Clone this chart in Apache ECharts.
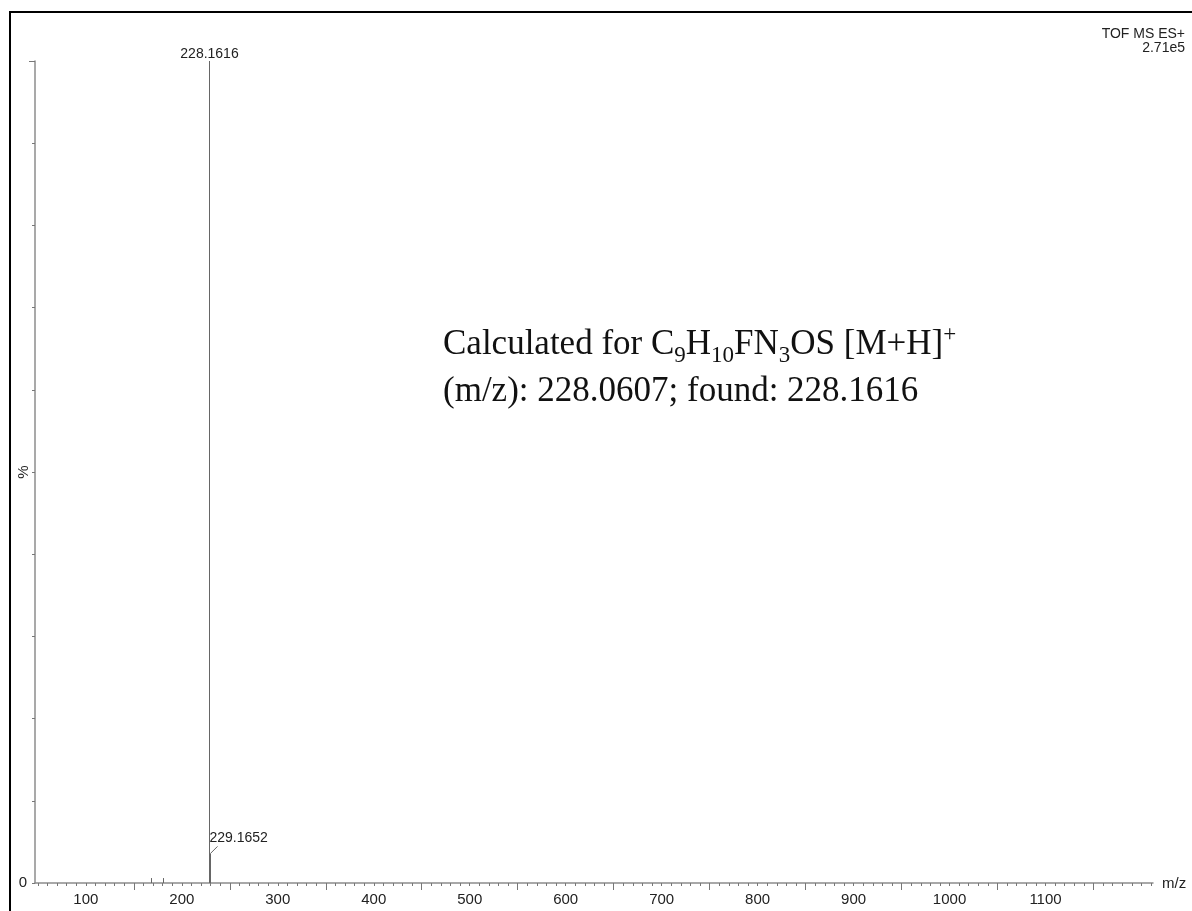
<!DOCTYPE html>
<html>
<head>
<meta charset="utf-8">
<title>TOF MS ES+ spectrum</title>
<script src="https://cdn.jsdelivr.net/npm/echarts@6/dist/echarts.min.js"></script>
<style>
  html, body { margin: 0; padding: 0; background: #fff; }
  #chart { width: 1192px; height: 911px; }
</style>
</head>
<body>
<div id="chart"></div>
<script>
// Peak list: m/z and relative intensity (%)
const mzValues = [168.1, 179.9, 228.1616, 229.1652];
const intensities = [0.6, 0.6, 100, 3.6];
const peakLabels = ['', '', '228.1616', '229.1652'];

// Axis ticks and labels
const xLabelValues = [100, 200, 300, 400, 500, 600, 700, 800, 900, 1000, 1100];
const xMinorTicks = [];
for (let v = 50; v <= 1210; v += 10) xMinorTicks.push(v);
const xHalfTicks = [150, 250, 350, 450, 550, 650, 750, 850, 950, 1050, 1150];
const yTickValues = [0, 10, 20, 30, 40, 50, 60, 70, 80, 90, 100];

const X_MIN = 47, X_MAX = 1212;
const SANS = '"Liberation Sans", Arial, sans-serif';
const SERIF = '"Liberation Serif", "Times New Roman", serif';
const AXIS_GREY = '#8c8c8c';

const chart = echarts.init(document.getElementById('chart'), null, { renderer: 'canvas' });

const peakData = mzValues.map((mz, i) => [mz, intensities[i], peakLabels[i]]);

const option = {
  backgroundColor: '#ffffff',
  animation: false,
  grid: { left: 35, right: 39, top: 61, bottom: 28, containLabel: false, outerBoundsMode: 'none' },
  xAxis: [
    {
      type: 'value', min: X_MIN, max: X_MAX,
      axisLine: { show: true, onZero: false, lineStyle: { color: AXIS_GREY, width: 1.5 } },
      axisTick: { show: true, inside: false, length: 3, customValues: xMinorTicks,
                  lineStyle: { color: '#777', width: 1 } },
      axisLabel: { show: true, customValues: xLabelValues, margin: 9,
                   formatter: v => String(v),
                   fontFamily: SANS, fontSize: 15, color: '#222' },
      splitLine: { show: false }
    },
    {
      type: 'value', min: X_MIN, max: X_MAX, position: 'bottom',
      axisLine: { show: false },
      axisTick: { show: true, inside: false, length: 7, customValues: xHalfTicks,
                  lineStyle: { color: '#777', width: 1 } },
      axisLabel: { show: false },
      splitLine: { show: false }
    }
  ],
  yAxis: [
    {
      type: 'value', min: 0, max: 100, interval: 10,
      axisLine: { show: true, lineStyle: { color: AXIS_GREY, width: 1.5 } },
      axisTick: { show: true, inside: false, length: 3, customValues: yTickValues,
                  lineStyle: { color: '#777', width: 1 } },
      axisLabel: { show: true, customValues: [0], margin: 8,
                   fontFamily: SANS, fontSize: 15, color: '#222' },
      splitLine: { show: false }
    },
    {
      type: 'value', min: 0, max: 100, position: 'left',
      axisLine: { show: false },
      axisTick: { show: true, inside: false, length: 6, customValues: [100],
                  lineStyle: { color: '#777', width: 1 } },
      axisLabel: { show: false },
      splitLine: { show: false }
    }
  ],
  series: [
    {
      type: 'custom',
      xAxisIndex: 0, yAxisIndex: 0,
      data: peakData,
      clip: false,
      renderItem: function (params, api) {
        const base = api.coord([api.value(0), 0]);
        const top = api.coord([api.value(0), api.value(1)]);
        const x = Math.round(base[0]) + 0.5;
        const label = peakLabels[params.dataIndex];
        const children = [{
          type: 'line',
          shape: { x1: x, y1: base[1], x2: x, y2: top[1] },
          style: { stroke: '#666', lineWidth: 1 }
        }];
        if (label && api.value(1) >= 50) {
          children.push({
            type: 'text',
            style: { text: label, x: x, y: top[1], align: 'center', verticalAlign: 'bottom',
                     font: '14px ' + SANS, fill: '#222' }
          });
        } else if (label) {
          children.push({
            type: 'line',
            shape: { x1: x, y1: top[1], x2: x + 7, y2: top[1] - 7 },
            style: { stroke: '#666', lineWidth: 1 }
          });
          children.push({
            type: 'text',
            style: { text: label, x: x - 1, y: top[1] - 8, align: 'left', verticalAlign: 'bottom',
                     font: '14px ' + SANS, fill: '#222' }
          });
        }
        return { type: 'group', children: children };
      }
    }
  ],
  graphic: [
    {
      type: 'rect', silent: true, z: 100,
      shape: { x: 10, y: 12, width: 1200, height: 920 },
      style: { fill: 'none', stroke: '#000', lineWidth: 2 }
    },
    {
      type: 'text', x: 1185, y: 27,
      style: { text: 'TOF MS ES+', align: 'right', verticalAlign: 'top', font: '14px ' + SANS, fill: '#222' }
    },
    {
      type: 'text', x: 1185, y: 41,
      style: { text: '2.71e5', align: 'right', verticalAlign: 'top', font: '14px ' + SANS, fill: '#222' }
    },
    {
      type: 'text', x: 24, y: 472, rotation: Math.PI / 2,
      style: { text: '%', align: 'center', verticalAlign: 'middle', font: '15px ' + SANS, fill: '#222' }
    },
    {
      type: 'text', x: 1162, y: 876,
      style: { text: 'm/z', font: '15px ' + SANS, fill: '#222' }
    },
    {
      type: 'text', x: 443, y: 323,
      style: {
        text: '{n|Calculated for C}{sub|9}{n|H}{sub|10}{n|FN}{sub|3}{n|OS [M+H]}{sup|+}',
        rich: {
          n: { fontFamily: SERIF, fontSize: 35, lineHeight: 44, fill: '#111', verticalAlign: 'middle' },
          sub: { fontFamily: SERIF, fontSize: 23, lineHeight: 21, fill: '#111', verticalAlign: 'bottom' },
          sup: { fontFamily: SERIF, fontSize: 23, lineHeight: 23, fill: '#111', verticalAlign: 'top' }
        }
      }
    },
    {
      type: 'text', x: 443, y: 374,
      style: {
        text: '(m/z): 228.0607; found: 228.1616',
        font: '35px ' + SERIF, fill: '#111'
      }
    }
  ]
};

chart.setOption(option);
</script>
</body>
</html>
